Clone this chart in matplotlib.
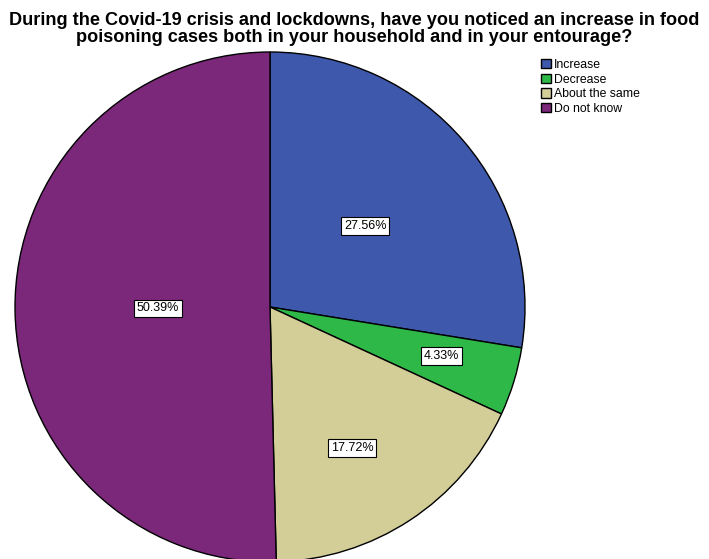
import numpy as np
import matplotlib.pyplot as plt
from matplotlib.patches import Patch

plt.rcParams['font.family'] = ['Liberation Sans', 'DejaVu Sans']

categories = ['Increase', 'Decrease', 'About the same', 'Do not know']
percents = [27.56, 4.33, 17.72, 50.39]
colors = ['#3E58AC', '#2EB848', '#D3CE97', '#7B287A']
label_dist = [0.49, 0.70, 0.64, 0.44]
label_shift = [0, 1, -3, 0]  # degrees, nudges each label along the arc

fig = plt.figure(figsize=(7.09, 5.59), dpi=100)

# pie axes: radius 255 px, centred at (270, 307) from top-left
ax = fig.add_axes([15 / 709, (559 - 562) / 559, 510 / 709, 510 / 559])
wedges, _ = ax.pie(percents, colors=colors, startangle=90, counterclock=False,
                   radius=1, wedgeprops=dict(edgecolor='black', linewidth=1))
ax.set_xlim(-1, 1)
ax.set_ylim(-1, 1)
ax.set_aspect('equal')
ax.axis('off')

for w, p, d, s in zip(wedges, percents, label_dist, label_shift):
    ang = np.deg2rad((w.theta1 + w.theta2) / 2 + s)
    ax.text(d * np.cos(ang), d * np.sin(ang), f'{p:.2f}%', ha='center', va='center',
            fontsize=9, bbox=dict(boxstyle='square,pad=0.22', fc='white', ec='black', lw=0.8))

fig.text(0.5, 1 - 29 / 559,
         'During the Covid-19 crisis and lockdowns, have you noticed an increase in food\n'
         'poisoning cases both in your household and in your entourage?',
         ha='center', va='center', fontsize=13.1, fontweight='bold', linespacing=1.0)

handles = [Patch(facecolor=c, edgecolor='black', label=l) for c, l in zip(colors, categories)]
fig.legend(handles=handles, loc='upper left', bbox_to_anchor=(536 / 709, 1 - 54 / 559),
           frameon=False, fontsize=8.8, handlelength=0.8, handleheight=0.8,
           handletextpad=0.3, labelspacing=0.22, borderaxespad=0)

fig.savefig('out.png', dpi=100)
